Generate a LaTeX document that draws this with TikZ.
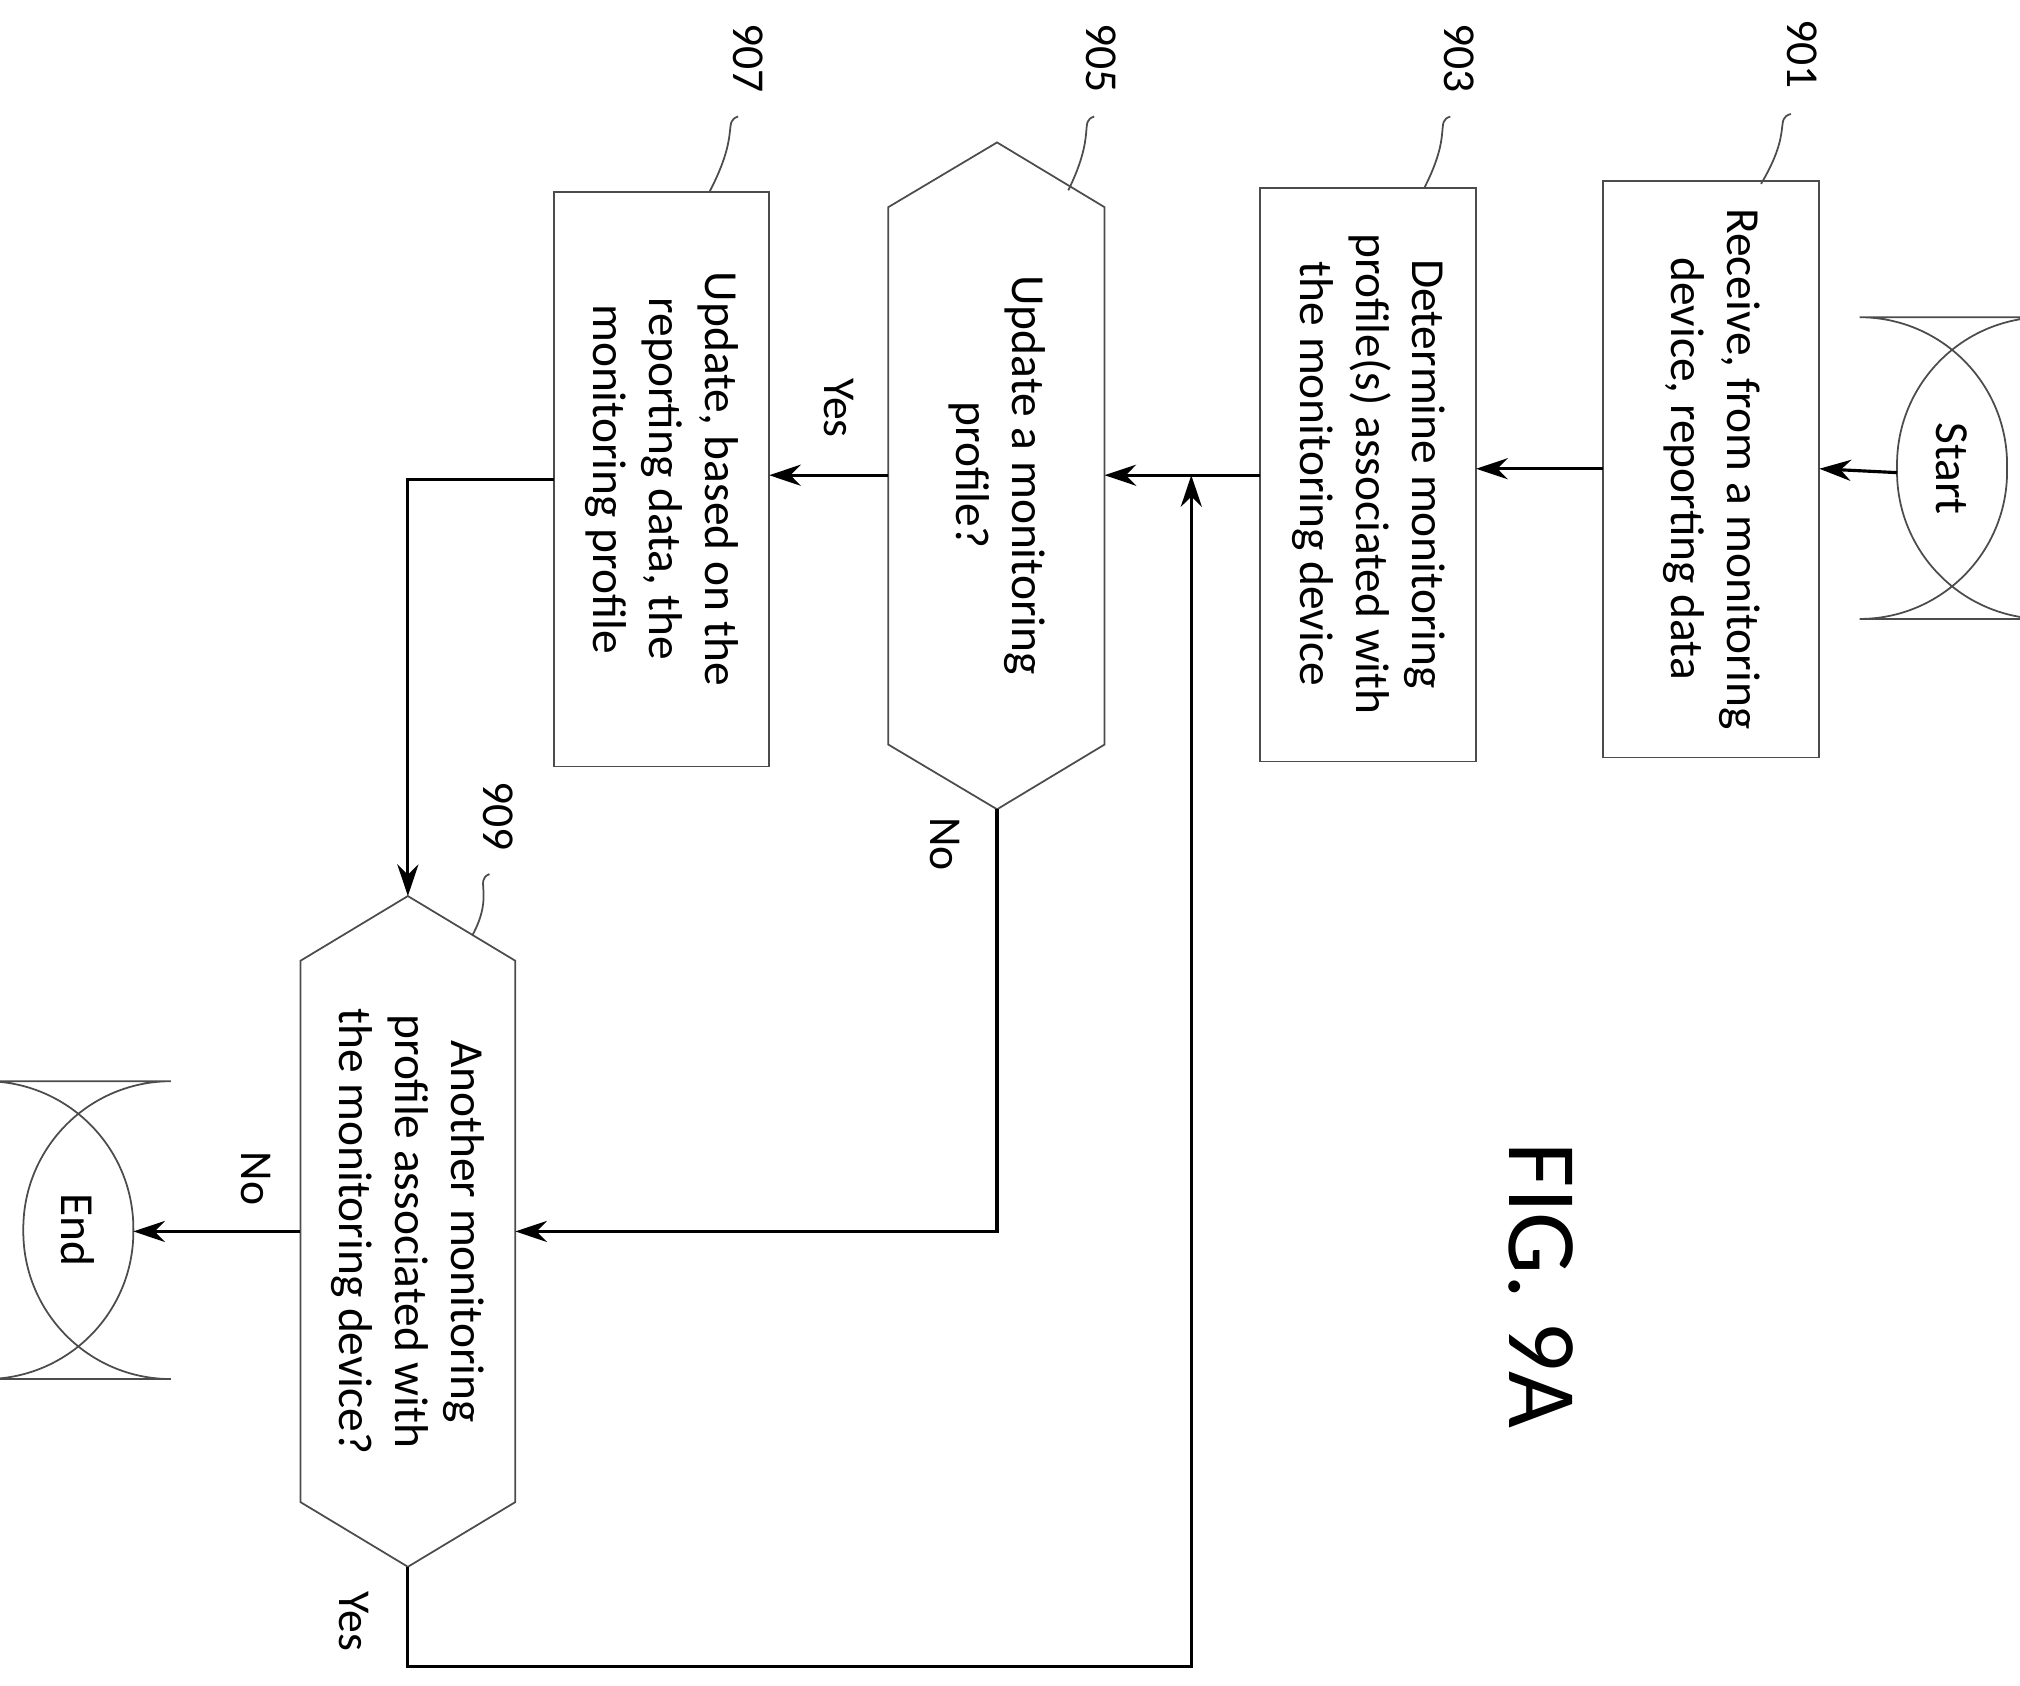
\documentclass[tikz,border=0pt]{standalone}
\usepackage{fontspec}
\setmainfont{Carlito}
\usetikzlibrary{arrows.meta}
\begin{document}
\begin{tikzpicture}[x=0.01295cm,y=-0.01295cm,
  box/.style={draw=black!70,line width=0.5pt},
  txt/.style={rotate=-90,align=center,font=\fontsize{13.5}{16}\selectfont,inner sep=0pt},
  lbl/.style={rotate=-90,font=\fontsize{13}{15}\selectfont,inner sep=0pt},
  arr/.style={line width=0.9pt,-{Stealth[length=9pt,width=6pt]}},
  ln/.style={line width=0.9pt},
  lead/.style={line width=0.5pt,black!70}]
\useasboundingbox (0,0) rectangle (1560,1302);
% shapes
\draw[box,rounded corners=42] (1465,245) rectangle (1550,478);
\draw[box] (1238,140) rectangle (1405,585);
\draw[box] (973,145) rectangle (1140,588);
\draw[box] (770,110) -- (853,160) -- (853,575) -- (770,625) -- (686,575) -- (686,160) -- cycle;
\draw[box] (428,148) rectangle (594,592);
\draw[box] (315,692) -- (398,742) -- (398,1160) -- (315,1210) -- (232,1160) -- (232,742) -- cycle;
\draw[box,rounded corners=42] (18,835) rectangle (103,1065);
% texts
\node[txt] (start) at (1507,362) {Start};
\node[txt] (n901) at (1322,362) {Receive, from a monitoring\\device, reporting data};
\node[txt] (n903) at (1057,366) {Determine monitoring\\profile(s) associated with\\the monitoring device};
\node[txt] (n905) at (770,367) {Update a monitoring\\profile?};
\node[txt] (n907) at (511,370) {Update, based on the\\reporting data, the\\monitoring profile};
\node[txt] (n909) at (315,951) {Another monitoring\\profile associated with\\the monitoring device?};
\node[txt] (end) at (60,950) {End};
\node[rotate=-90,font=\fontsize{28}{30}\selectfont,inner sep=0pt] (fig) at (1190,993) {FIG. 9A};
% reference labels
\node[lbl] (l901) at (1392,42) {901};
\node[lbl] (l903) at (1127,45) {903};
\node[lbl] (l905) at (850,45) {905};
\node[lbl] (l907) at (578,45) {907};
\node[lbl] (l909) at (385,630) {909};
\draw[lead] (1383,88) .. controls (1370,92) and (1385,100) .. (1360,142);
\draw[lead] (1120,90) .. controls (1108,94) and (1122,102) .. (1100,145);
\draw[lead] (845,90) .. controls (833,94) and (847,102) .. (825,147);
\draw[lead] (570,90) .. controls (558,94) and (572,102) .. (548,148);
\draw[lead] (378,675) .. controls (366,680) and (382,690) .. (365,722);
% connectors
\coordinate (a1) at (1465,365);
\coordinate (a2) at (1405,362);
\draw[arr] (a1) -- (a2);
\draw[arr] (1238,362) -- (1140,362);
\draw[arr] (973,367) -- (853,367);
\draw[arr] (686,367) -- (594,367);
\node[lbl] (yes1) at (648,315) {Yes};
\draw[arr] (428,370) -- (315,370) -- (315,692);
\draw[arr] (770,625) -- (770,951) -- (398,951);
\node[lbl] (no1) at (730,652) {No};
\draw[arr] (232,951) -- (103,951);
\node[lbl] (no2) at (198,910) {No};
\draw[arr] (315,1210) -- (315,1287) -- (920,1287) -- (920,367);
\node[lbl] (yes2) at (273,1252) {Yes};
\end{tikzpicture}
\end{document}
